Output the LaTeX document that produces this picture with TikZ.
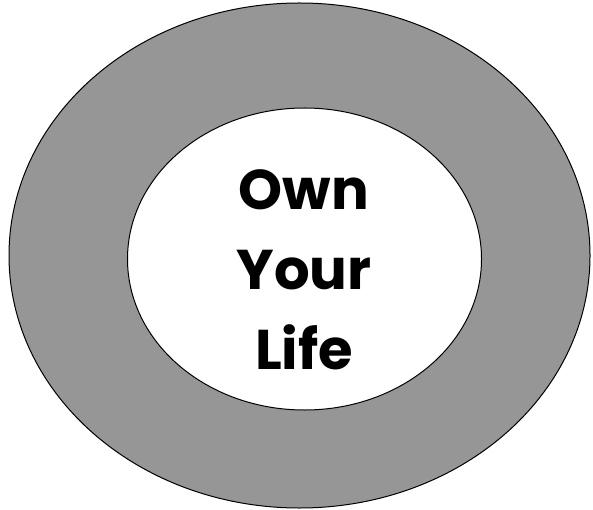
\documentclass[tikz,border=0pt]{standalone}
\usepackage{fontspec}
\setmainfont{Poppins}
\definecolor{ringgray}{HTML}{969696}
\tikzset{
  ring/.style={draw=black, line width=1pt, fill=ringgray},
  hole/.style={draw=black, line width=1pt, fill=white},
  label/.style={align=center, font=\fontsize{56}{80}\selectfont\bfseries, text=black}
}
\begin{document}
\begin{tikzpicture}[x=1pt,y=-1pt]
\useasboundingbox (0,0) rectangle (593,510);
\path[ring] (299.5,255.5) ellipse [x radius=290.5, y radius=252.5];
\path[hole] (304.5,259) ellipse [x radius=177, y radius=151];
\node[label] (txt) at (304,270) {Own\\Your\\Life};
\end{tikzpicture}
\end{document}
